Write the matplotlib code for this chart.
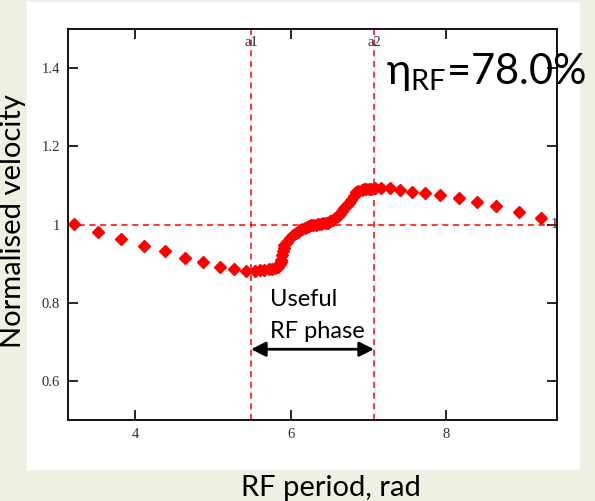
import matplotlib.pyplot as plt
import matplotlib.transforms as mtransforms
from matplotlib.patches import Rectangle

# normalised velocity vs RF phase
phase = [3.22, 3.53, 3.82, 4.11, 4.38, 4.64, 4.88, 5.09, 5.27, 5.42, 5.54,
         5.60, 5.66, 5.72, 5.76, 5.80, 5.835, 5.86, 5.87, 5.88, 5.89, 5.90,
         5.91, 5.92, 5.95, 5.99, 6.03, 6.07, 6.10, 6.12, 6.15, 6.18, 6.21,
         6.23, 6.26, 6.29, 6.32, 6.35, 6.39, 6.42, 6.45, 6.48, 6.51, 6.54,
         6.57, 6.61, 6.63, 6.66, 6.69, 6.72, 6.75, 6.78, 6.81, 6.84, 6.87,
         6.91, 6.94, 6.97, 7.00, 7.03, 7.08, 7.16, 7.28, 7.40, 7.56, 7.73,
         7.92, 8.16, 8.39, 8.64, 8.93, 9.22]
velocity = [1.001, 0.981, 0.964, 0.946, 0.933, 0.914, 0.904, 0.892, 0.886, 0.881, 0.882,
            0.883, 0.884, 0.885, 0.886, 0.888, 0.892, 0.898, 0.904, 0.910, 0.922, 0.932,
            0.941, 0.948, 0.956, 0.965, 0.972, 0.978, 0.982, 0.985, 0.988, 0.991, 0.994,
            0.996, 0.998, 0.999, 1.000, 1.001, 1.002, 1.003, 1.004, 1.005, 1.008, 1.012,
            1.016, 1.021, 1.027, 1.034, 1.042, 1.049, 1.056, 1.063, 1.072, 1.082, 1.086,
            1.089, 1.090, 1.090, 1.091, 1.091, 1.093, 1.094, 1.093, 1.089, 1.084, 1.081,
            1.075, 1.068, 1.057, 1.047, 1.032, 1.016]

a1 = 5.49
a2 = 7.07
eta_text = r'$\mathregular{\eta_{RF}}$=78.0%'

xticks = [4, 6, 8]
yticks = [0.6, 0.8, 1.0, 1.2, 1.4]
yticklabels = ['0.6', '0.8', '1', '1.2', '1.4']

fig = plt.figure(figsize=(5.95, 5.01), dpi=100, facecolor='#eef0e4')
# white panel behind the chart
fig.patches.append(Rectangle((27 / 595, 1 - 470 / 501), 553 / 595, 468 / 501,
                             transform=fig.transFigure, facecolor='white',
                             edgecolor='none', zorder=0))

ax = fig.add_axes([68 / 595, 1 - 420 / 501, 489 / 595, 391 / 501])
ax.set_zorder(2)
ax.set_xlim(3.14, 9.42)
ax.set_ylim(0.5, 1.5)

# dashed markers a1, a2 and unity line
ax.axvline(a1, color='red', ls=(0, (4, 3)), lw=1.1)
ax.axvline(a2, color='red', ls=(0, (4, 3)), lw=1.1)
ax.axhline(1.0, color='red', ls=(0, (4, 3)), lw=1.1)

ax.plot(phase, velocity, ls='none', marker='D', ms=6.5, color='red', mec='red')

tick_font = {'family': 'Liberation Serif', 'size': 10.5, 'color': '#2a2a40'}
ax.set_xticks(xticks)
ax.set_xticklabels([str(t) for t in xticks], fontdict=tick_font)
ax.set_yticks(yticks)
ax.set_yticklabels(yticklabels, fontdict=tick_font)
ax.tick_params(direction='in', length=7, width=1.2, top=True, right=True, pad=6)
for s in ax.spines.values():
    s.set_linewidth(1.3)

trans = mtransforms.blended_transform_factory(ax.transData, ax.transAxes)
ax.text(a1, 0.965, 'a1', transform=trans, ha='center', va='center', **tick_font)
ax.text(a2, 0.965, 'a2', transform=trans, ha='center', va='center', **tick_font)
trans2 = mtransforms.blended_transform_factory(ax.transAxes, ax.transData)
ax.text(0.995, 1.0, '1', transform=trans2, ha='center', va='center', **tick_font)

# useful phase arrow
ax.annotate('', xy=(a1, 0.681), xytext=(a2, 0.681),
            arrowprops=dict(arrowstyle='<|-|>', color='black', lw=2, mutation_scale=22,
                            shrinkA=0, shrinkB=0))
ax.text(5.73, 0.808, 'Useful', family='Lato', fontsize=17, ha='left', va='center')
ax.text(5.73, 0.727, 'RF phase', family='Lato', fontsize=17, ha='left', va='center')

fig.text(386 / 595, 1 - 72 / 501, eta_text, family='Lato', fontsize=30,
         ha='left', va='center', zorder=5)

fig.text(331 / 595, 1 - 488 / 501, 'RF period, rad', family='Lato', fontsize=21,
         ha='center', va='center')
fig.text(13 / 595, 1 - 221 / 501, 'Normalised velocity', family='Lato', fontsize=21,
         ha='center', va='center', rotation=90)

fig.savefig('out.png', dpi=100, facecolor=fig.get_facecolor())
